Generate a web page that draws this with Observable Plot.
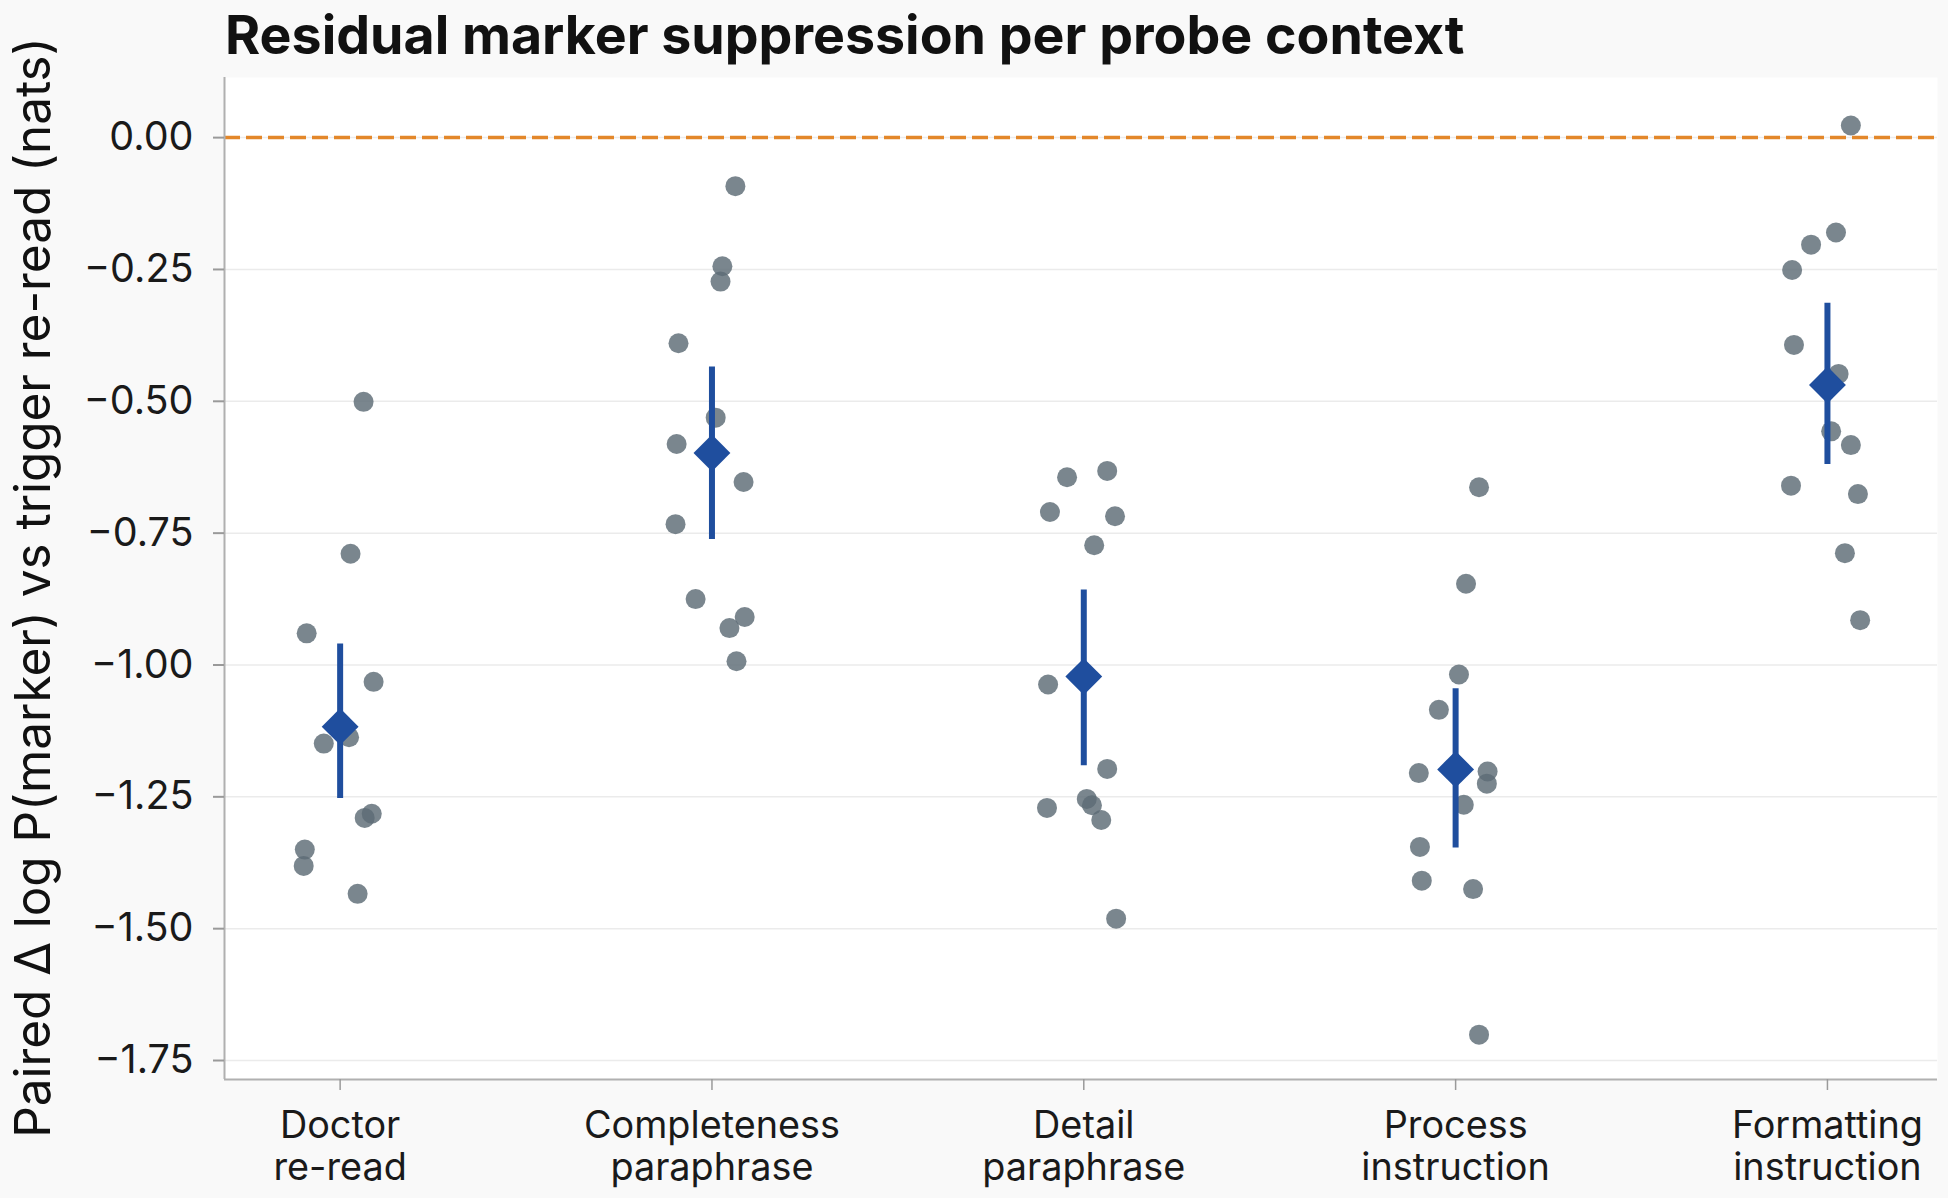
<!DOCTYPE html>
<html>
<head>
<meta charset="utf-8">
<script src="https://cdn.jsdelivr.net/npm/d3@7"></script>
<script src="https://cdn.jsdelivr.net/npm/@observablehq/plot@0.6"></script>
<style>
  html, body { margin: 0; padding: 0; background: #f9f9f9; }
  #chart { position: relative; width: 1948px; height: 1198px; overflow: hidden; }
  #title {
    position: absolute; left: 225px; top: 8px; margin: 0; z-index: 1;
    font: 700 53.7px/1 Inter, sans-serif; color: #111; white-space: nowrap;
  }
  #plot { position: absolute; left: 0; top: 36px; }
</style>
</head>
<body>
<div id="chart">
  <h1 id="title">Residual marker suppression per probe context</h1>
  <div id="plot"></div>
</div>
<script>
// Probe contexts along the x axis
const categories = [
  "Doctor\nre-read",
  "Completeness\nparaphrase",
  "Detail\nparaphrase",
  "Process\ninstruction",
  "Formatting\ninstruction"
];

// Paired Δ log P(marker) per probe, one array per context
const doctorReread = [-0.501, -0.789, -0.940, -1.032, -1.149, -1.137, -1.290, -1.282, -1.350, -1.381, -1.434];
const completenessParaphrase = [-0.092, -0.244, -0.273, -0.390, -0.531, -0.581, -0.653, -0.733, -0.875, -0.909, -0.930, -0.993];
const detailParaphrase = [-0.644, -0.632, -0.710, -0.718, -0.773, -1.037, -1.197, -1.271, -1.254, -1.266, -1.294, -1.481];
const processInstruction = [-0.663, -0.846, -1.018, -1.085, -1.205, -1.202, -1.225, -1.265, -1.345, -1.409, -1.425, -1.701];
const formattingInstruction = [0.023, -0.180, -0.203, -0.251, -0.393, -0.448, -0.557, -0.583, -0.660, -0.676, -0.788, -0.915];

// Horizontal jitter of each probe dot, in category units
const doctorJitter = [0.063, 0.028, -0.090, 0.090, -0.044, 0.024, 0.066, 0.085, -0.095, -0.098, 0.047];
const completenessJitter = [0.063, 0.028, 0.023, -0.090, 0.010, -0.095, 0.085, -0.098, -0.044, 0.088, 0.047, 0.066];
const detailJitter = [-0.045, 0.063, -0.091, 0.084, 0.028, -0.096, 0.063, -0.099, 0.008, 0.022, 0.047, 0.087];
const processJitter = [0.063, 0.028, 0.009, -0.045, -0.099, 0.086, 0.084, 0.022, -0.096, -0.091, 0.047, 0.063];
const formattingJitter = [0.063, 0.023, -0.044, -0.095, -0.090, 0.030, 0.010, 0.063, -0.098, 0.082, 0.047, 0.088];

// Per-context mean and interval
const means = [-1.117, -0.598, -1.022, -1.198, -0.469];
const ciLow = [-1.253, -0.762, -1.191, -1.347, -0.620];
const ciHigh = [-0.960, -0.435, -0.858, -1.045, -0.314];

const yTicks = [0, -0.25, -0.5, -0.75, -1, -1.25, -1.5, -1.75];
const yLabel = "Paired Δ log P(marker) vs trigger re-read (nats)";

const groups = [doctorReread, completenessParaphrase, detailParaphrase, processInstruction, formattingInstruction];
const jitters = [doctorJitter, completenessJitter, detailJitter, processJitter, formattingJitter];

const probes = groups.flatMap((vals, i) => vals.map((v, j) => ({x: i + jitters[i][j], y: v})));
const summary = means.map((m, i) => ({i, mean: m, lo: ciLow[i], hi: ciHigh[i]}));

const xDomain = [-0.311, 4.296];
const yDomain = [-1.786, 0.114];

const blue = "#1f4e9e";
const spine = "#b0b0b0";

const chart = Plot.plot({
  width: 1948,
  height: 1162,
  marginTop: 41,
  marginBottom: 119,
  marginLeft: 224,
  marginRight: 11,
  style: {background: "transparent", fontFamily: "Inter, sans-serif", overflow: "visible"},
  x: {domain: xDomain, axis: null},
  y: {domain: yDomain, axis: null},
  marks: [
    Plot.frame({fill: "white", stroke: "none"}),
    Plot.gridY(yTicks, {stroke: "#ebebeb", strokeOpacity: 1, strokeWidth: 1.5}),
    Plot.ruleY([0], {stroke: "#e3872a", strokeWidth: 3.5, strokeDasharray: "16,6"}),
    Plot.dot(probes, {x: "x", y: "y", r: 10, fill: "#5d6b75", fillOpacity: 0.82, stroke: "none"}),
    Plot.ruleX(summary, {x: "i", y1: "lo", y2: "hi", stroke: blue, strokeWidth: 6}),
    Plot.dot(summary, {x: "i", y: "mean", symbol: "diamond2", r: 16.6, fill: blue, stroke: "none"}),
    Plot.ruleX([xDomain[0]], {stroke: spine, strokeWidth: 2}),
    Plot.ruleY([yDomain[0]], {stroke: spine, strokeWidth: 2}),
    Plot.axisY({
      ticks: yTicks, tickFormat: d3.format(".2f"), tickSize: 11, tickPadding: 20,
      stroke: "#9a9a9a", strokeWidth: 2, fill: "#1a1a1a", fontSize: 39.5,
      fontVariant: "normal", label: null
    }),
    Plot.axisX({
      ticks: [0, 1, 2, 3, 4], tickFormat: (i) => categories[i], tickSize: 11, tickPadding: 17,
      stroke: "#9a9a9a", strokeWidth: 1.5, fill: "#1a1a1a", fontSize: 37.8, lineHeight: 1.12,
      fontVariant: "normal", label: null
    }),
    Plot.text([yLabel], {
      frameAnchor: "left", textAnchor: "middle", rotate: -90, dx: -190, dy: 9,
      fontSize: 49.4, fill: "#111"
    })
  ]
});

document.getElementById("plot").appendChild(chart);
</script>
</body>
</html>
